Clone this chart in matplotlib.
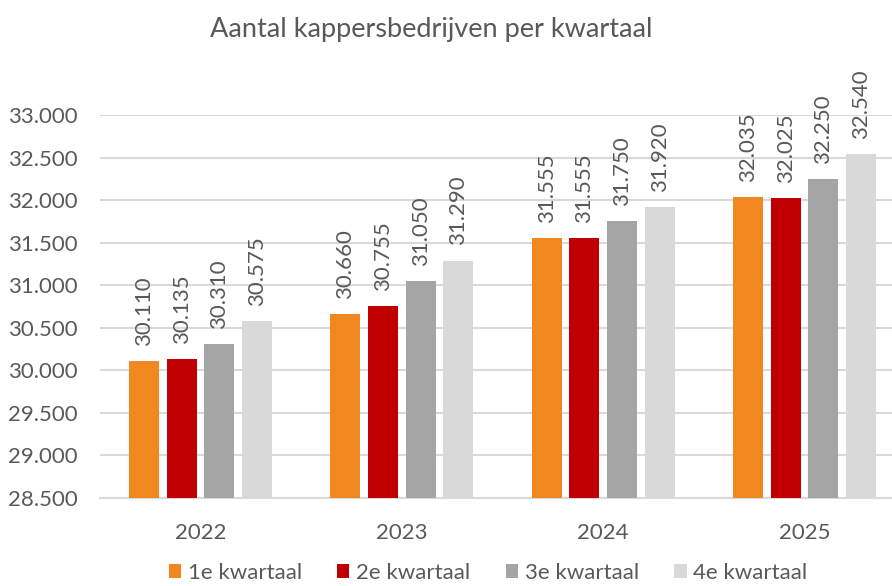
import numpy as np
import matplotlib
matplotlib.use("Agg")
import matplotlib.pyplot as plt

years = ["2022", "2023", "2024", "2025"]
quarters = ["1e kwartaal", "2e kwartaal", "3e kwartaal", "4e kwartaal"]
q1 = [30110, 30660, 31555, 32035]
q2 = [30135, 30755, 31555, 32025]
q3 = [30310, 31050, 31750, 32250]
q4 = [30575, 31290, 31920, 32540]
colors = ["#F0871F", "#C00000", "#A5A5A5", "#D9D9D9"]

plt.rcParams["font.family"] = ["Lato", "DejaVu Sans"]
txt = "#595959"

fig = plt.figure(figsize=(8.92, 5.86), dpi=100)
ax = fig.add_axes([100 / 892, 88 / 586, 792 / 892, 383 / 586])

x = np.arange(len(years))
pitch = 0.187
width = 0.149
for i, (vals, name) in enumerate(zip([q1, q2, q3, q4], quarters)):
    pos = x + (i - 1.5) * pitch
    bars = ax.bar(pos, vals, width, color=colors[i], label=name, zorder=3)
    for b, v in zip(bars, vals):
        lab = f"{v:,}".replace(",", ".")
        ax.annotate(lab, (b.get_x() + b.get_width() / 2, v), xytext=(0, 11),
                    textcoords="offset points", rotation=90, ha="center",
                    va="bottom", fontsize=16, color=txt, annotation_clip=False)

ax.set_ylim(28500, 33000)
ax.set_xlim(-0.5, -0.5 + 792 / 201.3)
ax.set_yticks(np.arange(28500, 33001, 500))
ax.set_yticklabels([f"{v:,}".replace(",", ".") for v in np.arange(28500, 33001, 500)])
ax.set_xticks(x)
ax.set_xticklabels(years)
ax.tick_params(axis="both", length=0, labelsize=16, colors=txt)
ax.tick_params(axis="y", pad=16)
ax.tick_params(axis="x", pad=18)
ax.grid(axis="y", color="#D9D9D9", linewidth=1.5, zorder=0)
for s in ["top", "right", "left"]:
    ax.spines[s].set_visible(False)
ax.spines["bottom"].set_color("#D9D9D9")
ax.spines["bottom"].set_linewidth(1.5)

fig.text(431 / 892, 1 - 30 / 586, "Aantal kappersbedrijven per kwartaal",
         ha="center", va="center", fontsize=19.5, color=txt)

fig.legend(loc="center", bbox_to_anchor=(488 / 892, 1 - 573 / 586), ncol=4,
           frameon=False, fontsize=16, labelcolor=txt, handlelength=0.55,
           handleheight=0.55, handletextpad=0.3, columnspacing=1.6)

fig.savefig("out.png", dpi=100)
